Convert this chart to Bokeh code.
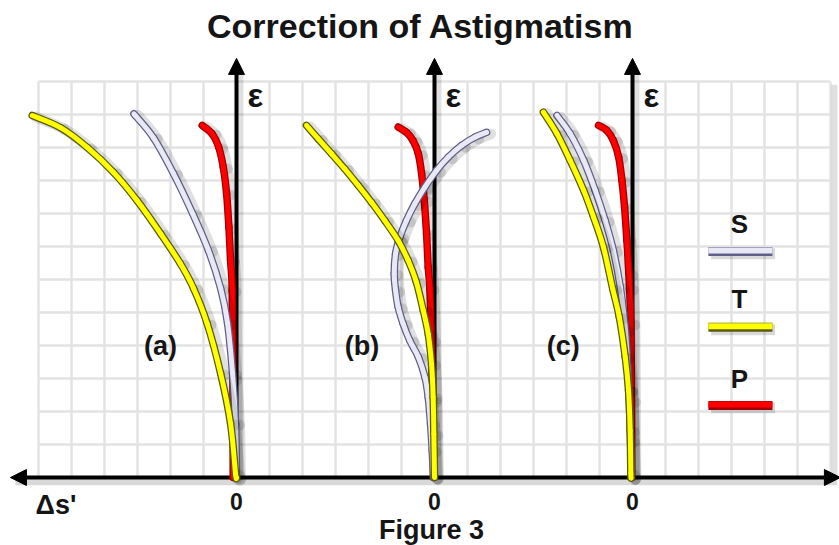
from bokeh.plotting import figure
from bokeh.models import Arrow, NormalHead, Range1d
from bokeh.embed import file_html
from bokeh.resources import INLINE
from bokeh.core.properties import value

# ---------------- data (grid units: delta s' horizontally, epsilon vertically) -------------
panel_zero = [0, 6, 12]          # position of each panel's origin on the common axis
panel_names = ["(a)", "(b)", "(c)"]
panel_label_ds = [-2.3, -2.2, -2.1]
panel_label_eps = [4.0, 4.0, 4.0]

# panel (a)
a_T_ds = [-6.19, -5.33, -4.52, -3.73, -3.01, -2.30, -1.70, -1.30, -0.89, -0.48, -0.18, -0.03, 0.0]
a_T_eps = [10.97, 10.6, 10.0, 9.25, 8.39, 7.39, 6.48, 5.73, 4.67, 3.15, 1.64, 0.12, 0.0]
a_S_ds = [-3.11, -2.52, -1.91, -1.33, -0.85, -0.48, -0.27, -0.12, -0.03, 0.0]
a_S_eps = [11.02, 10.3, 9.21, 8.0, 6.88, 5.73, 4.67, 3.15, 1.64, 0.0]
a_P_ds = [-1.04, -0.74, -0.54, -0.40, -0.30, -0.23, -0.18, -0.13, -0.11, -0.10]
a_P_eps = [10.67, 10.42, 10.01, 9.40, 8.60, 7.58, 6.58, 5.67, 3.0, 0.0]

# panel (b)
b_T_ds = [-3.88, -3.52, -3.12, -2.72, -2.31, -1.91, -1.51, -1.10, -0.80, -0.55, -0.34, -0.19,
          -0.09, -0.04, -0.02, 0.0]
b_T_eps = [10.67, 10.26, 9.81, 9.35, 8.85, 8.34, 7.79, 7.18, 6.58, 5.92, 5.06, 4.35,
           3.44, 2.43, 1.32, 0.0]
b_S_ds = [1.58, 1.22, 0.82, 0.42, 0.06, -0.29, -0.60, -0.85, -1.05, -1.18, -1.22, -1.18,
          -1.10, -0.95, -0.75, -0.49, -0.29, -0.19, -0.12, -0.07, -0.03]
b_S_eps = [10.46, 10.31, 10.06, 9.71, 9.30, 8.80, 8.29, 7.79, 7.28, 6.78, 6.17, 5.67,
           5.16, 4.66, 4.15, 3.65, 3.04, 2.43, 1.63, 0.82, 0.0]
b_P_ds = [-1.10, -0.85, -0.65, -0.49, -0.39, -0.31, -0.24, -0.19, -0.14, -0.09, -0.06, -0.03]
b_P_eps = [10.62, 10.46, 10.21, 9.81, 9.2, 8.39, 7.38, 6.37, 5.72, 4.15, 2.33, 0.0]

# panel (c)
c_T_ds = [-2.70, -2.29, -1.89, -1.48, -1.18, -0.88, -0.60, -0.40, -0.22, -0.12, -0.07, -0.05, -0.04]
c_T_eps = [11.07, 10.42, 9.61, 8.70, 7.89, 6.98, 5.72, 4.86, 3.65, 2.64, 1.42, 0.12, 0.0]
c_S_ds = [-2.29, -1.89, -1.48, -1.13, -0.83, -0.58, -0.37, -0.21, -0.11, -0.06, -0.03]
c_S_eps = [10.97, 10.42, 9.61, 8.70, 7.79, 6.88, 5.77, 4.45, 2.64, 1.12, 0.0]
c_P_ds = [-1.03, -0.78, -0.58, -0.42, -0.32, -0.24, -0.17, -0.11, -0.09, -0.05, -0.03, -0.02]
c_P_eps = [10.67, 10.52, 10.21, 9.71, 9.0, 8.19, 7.18, 6.17, 5.72, 4.67, 2.33, 0.0]

curves = [
    [(a_P_ds, a_P_eps, "P"), (a_S_ds, a_S_eps, "S"), (a_T_ds, a_T_eps, "T")],
    [(b_P_ds, b_P_eps, "P"), (b_S_ds, b_S_eps, "S"), (b_T_ds, b_T_eps, "T")],
    [(c_P_ds, c_P_eps, "P"), (c_S_ds, c_S_eps, "S"), (c_T_ds, c_T_eps, "T")],
]

legend_names = ["S", "T", "P"]
legend_text_eps = [7.67, 5.42, 3.0]
legend_line_eps = [6.85, 4.55, 2.18]
legend_x0, legend_x1, legend_xc = 14.3, 16.24, 15.24

grid_x = list(range(-6, 19))
grid_y = list(range(0, 13))

title_text = "Correction of Astigmatism"
figure_text = "Figure 3"
axis_y_label = "ε"
axis_x_label = "Δs'"
zero_label = "0"

# ---------------- styling -------------
fill_col = {"S": "#e9e9f5", "T": "#ffff00", "P": "#ff0000"}
edge_col = {"S": "#5f5f88", "T": "#5a5a12", "P": "#a00000"}
FONT = value("Liberation Sans")
TXT = "#151515"
W, H = 839, 545
PX = 33.0          # pixels per grid cell
OX, OY = 236, 477  # pixel position of the first panel's origin

p = figure(width=W, height=H, output_backend="svg", toolbar_location=None,
           x_axis_type=None, y_axis_type=None,
           x_range=Range1d(-OX / PX, (W - OX) / PX), y_range=Range1d((OY - H) / PX, OY / PX),
           min_border=0, outline_line_color=None,
           background_fill_color="white", border_fill_color="white")


def bezier_parts(xs, ys):
    """Catmull-Rom control points so the traced points are joined smoothly."""
    n = len(xs)
    out = {k: [] for k in ("x0", "y0", "x1", "y1", "cx0", "cy0", "cx1", "cy1")}
    for i in range(n - 1):
        i0 = max(i - 1, 0)
        i3 = min(i + 2, n - 1)
        out["x0"].append(xs[i]); out["y0"].append(ys[i])
        out["x1"].append(xs[i + 1]); out["y1"].append(ys[i + 1])
        out["cx0"].append(xs[i] + (xs[i + 1] - xs[i0]) / 6)
        out["cy0"].append(ys[i] + (ys[i + 1] - ys[i0]) / 6)
        out["cx1"].append(xs[i + 1] - (xs[i3] - xs[i]) / 6)
        out["cy1"].append(ys[i + 1] - (ys[i3] - ys[i]) / 6)
    return out


def py(v):
    """pixel row (from the top) -> data units"""
    return (OY - v) / PX


# grid
gx0, gx1 = grid_x[0], grid_x[-1]
gy0, gy1 = grid_y[0], grid_y[-1]
p.segment(x0=grid_x, y0=[gy0] * len(grid_x), x1=grid_x, y1=[gy1] * len(grid_x),
          line_color="#e3e3e3", line_width=2.5, level="image")
p.segment(x0=[gx0] * len(grid_y), y0=grid_y, x1=[gx1] * len(grid_y), y1=grid_y,
          line_color="#e3e3e3", line_width=2.5, level="image")
# grid right-edge shadow
p.segment(x0=[gx1 + 0.12], y0=[gy0], x1=[gx1 + 0.12], y1=[gy1 - 0.1],
          line_color="#000000", line_alpha=0.12, line_width=6, level="image")
# x axis shadow
p.segment(x0=[-6.7], y0=[-0.13], x1=[18.2], y1=[-0.13],
          line_color="#000000", line_alpha=0.15, line_width=7, level="image")

# axes with arrows
p.add_layout(Arrow(start=NormalHead(size=16, fill_color="black", line_color="black"),
                   end=NormalHead(size=16, fill_color="black", line_color="black"),
                   x_start=-6.85, y_start=0, x_end=18.3, y_end=0,
                   line_width=4, line_color="black", level="underlay"))
for z in panel_zero:
    p.add_layout(Arrow(end=NormalHead(size=16, fill_color="black", line_color="black"),
                       x_start=z, y_start=0, x_end=z, y_end=12.7,
                       line_width=4, line_color="black", level="underlay"))
    p.segment(x0=[z + 0.12], y0=[0], x1=[z + 0.12], y1=[12.2],
              line_color="#000000", line_alpha=0.12, line_width=6, level="image")

# curves
for z, group in zip(panel_zero, curves):
    for ds, eps, kind in group:
        xs = [z + d for d in ds]
        sh = bezier_parts([x + 0.12 for x in xs], [e - 0.05 for e in eps])
        p.bezier(**sh, line_color="#000000", line_alpha=0.12, line_width=11, line_cap="round")
        bz = bezier_parts(xs, eps)
        p.bezier(**bz, line_color=edge_col[kind], line_width=7.5, line_cap="round")
        p.bezier(**bz, line_color=fill_col[kind], line_width=5, line_cap="round")

# legend
for name, te, le in zip(legend_names, legend_text_eps, legend_line_eps):
    p.segment(x0=[legend_x0 + 0.08], y0=[le - 0.07], x1=[legend_x1 + 0.08], y1=[le - 0.07],
              line_color="#000000", line_alpha=0.15, line_width=11)
    p.segment(x0=[legend_x0], y0=[le], x1=[legend_x1], y1=[le],
              line_color=edge_col[name], line_width=9)
    p.segment(x0=[legend_x0], y0=[le + 0.03], x1=[legend_x1], y1=[le + 0.03],
              line_color=fill_col[name], line_width=6)
    p.text(x=[legend_xc], y=[te], text=[name], text_font=FONT, text_font_style="bold",
           text_font_size=value("26px"), text_align="center", text_baseline="middle",
           text_color=TXT)

# texts
p.text(x=[(420 - OX) / PX], y=[py(25)], text=[title_text], text_font=FONT,
       text_font_style="bold", text_font_size=value("34px"), text_align="center",
       text_baseline="middle", text_color=TXT)
p.text(x=[(431 - OX) / PX], y=[py(H - 1)], text=[figure_text], text_font=FONT,
       text_font_style="bold", text_font_size=value("27px"), text_align="center",
       text_baseline="bottom", text_color=TXT)
p.text(x=[z + 0.33 for z in panel_zero], y=[py(95)] * 3, text=[axis_y_label] * 3,
       text_font=FONT, text_font_style="bold", text_font_size=value("33px"),
       text_align="left", text_baseline="middle", text_color=TXT)
p.text(x=panel_zero, y=[-0.73] * 3, text=[zero_label] * 3,
       text_font=FONT, text_font_style="bold", text_font_size=value("23px"),
       text_align="center", text_baseline="middle", text_color=TXT)
p.text(x=[-6.09], y=[-0.82], text=[axis_x_label], text_font=FONT, text_font_style="bold",
       text_font_size=value("27px"), text_align="left", text_baseline="middle",
       text_color=TXT)
p.text(x=[z + d for z, d in zip(panel_zero, panel_label_ds)], y=panel_label_eps,
       text=panel_names, text_font=FONT, text_font_style="bold",
       text_font_size=value("27px"), text_align="center", text_baseline="middle",
       text_color=TXT)

open("out.html", "w").write(file_html(p, INLINE))
